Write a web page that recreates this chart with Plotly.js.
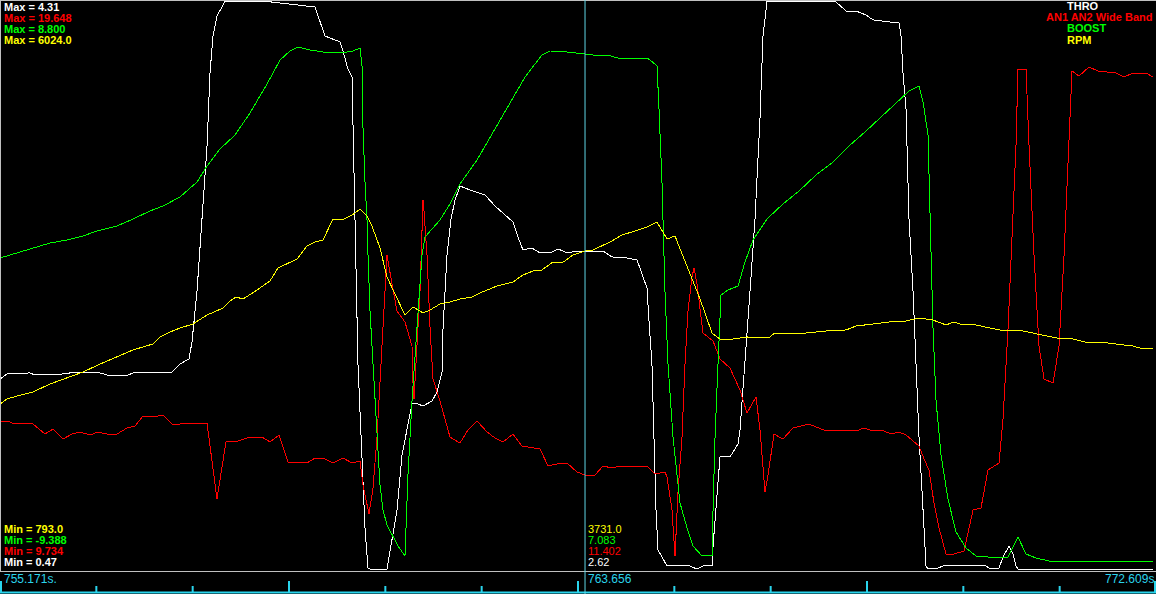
<!DOCTYPE html>
<html>
<head>
<meta charset="utf-8">
<script src="https://cdn.plot.ly/plotly-3.0.1.min.js"></script>
<style>
  html, body { margin: 0; padding: 0; background: #000; }
  #chart { width: 1156px; height: 594px; }
  #chart path.js-line { shape-rendering: crispEdges; }
</style>
</head>
<body>
<div id="chart"></div>
<script>
// ---- channel meta ----
const channelNames = ['THRO', 'AN1 AN2 Wide Band', 'BOOST', 'RPM'];
const channelMax = [4.31, 19.648, 8.800, 6024.0];
const channelMin = [0.47, 9.734, -9.388, 793.0];
const channelDecimals = [2, 3, 3, 1];
const cursorValues = [2.62, 11.402, 7.083, 3731.0];
const timeStart = 755.171;
const timeEnd = 772.609;
const cursorTime = 763.996;
const cursorLabel = '763.656';
const startLabel = '755.171s.';
const endLabel = '772.609s';

// ---- THRO (white) ----
const throTime = [755.171,755.277,755.624,755.699,756.121,756.227,756.680,756.785,757.102,757.177,
757.766,757.886,758.022,758.067,758.143,758.218,758.294,758.339,758.384,758.444,
758.565,759.199,759.923,760.073,760.300,760.345,760.420,760.481,760.496,760.526,
760.571,760.632,760.677,760.722,760.752,761.009,761.160,761.235,761.311,761.386,
761.431,761.552,761.688,761.763,761.839,761.854,761.914,761.974,762.035,762.110,
762.261,762.487,762.638,762.910,762.985,763.060,763.196,763.317,763.468,763.588,
763.724,763.875,763.996,764.267,764.403,764.629,764.780,764.825,764.931,764.961,
765.006,765.036,765.067,765.097,765.233,765.580,765.685,765.776,765.912,765.927,
765.987,766.032,766.183,766.304,766.334,766.409,766.485,766.560,766.636,766.681,
766.741,767.782,767.933,768.084,768.235,768.340,768.582,768.733,768.763,768.793,
768.838,768.883,768.944,768.989,769.034,769.095,769.140,769.170,769.245,769.321,
769.396,770.045,770.090,770.241,770.301,770.392,770.452,770.497,770.527,772.565];
const throVals = [1.761,1.795,1.802,1.788,1.795,1.802,1.802,1.788,1.788,1.802,
1.808,1.862,1.896,2.010,2.353,2.837,3.328,3.819,4.068,4.202,
4.30,4.30,4.263,4.068,4.028,3.967,3.846,3.792,3.382,2.837,
1.862,1.250,0.759,0.490,0.483,0.483,0.880,1.250,1.418,1.593,
1.600,1.580,1.613,1.674,1.808,2.104,2.595,2.837,2.965,3.059,
3.032,2.999,2.925,2.817,2.716,2.629,2.642,2.609,2.609,2.636,
2.609,2.622,2.622,2.622,2.582,2.575,2.562,2.508,2.373,2.151,
1.862,1.371,0.880,0.611,0.504,0.504,0.483,0.504,0.504,0.638,
1.001,1.237,1.237,1.324,1.418,1.862,2.353,2.837,3.523,4.068,
4.30,4.297,4.236,4.236,4.209,4.176,4.162,4.155,4.068,3.819,
3.577,2.837,2.353,1.862,1.371,0.880,0.504,0.483,0.490,0.490,
0.504,0.504,0.490,0.490,0.564,0.638,0.584,0.504,0.483,0.483];

// ---- AN1 AN2 Wide Band (red) ----
const afrTime = [755.171,755.277,755.397,755.548,755.669,755.850,755.971,756.121,756.257,756.378,
756.529,756.649,756.785,756.936,757.087,757.207,757.328,757.479,757.630,757.766,
757.886,758.037,758.158,758.294,758.444,758.580,758.716,758.942,759.123,759.244,
759.380,759.515,759.697,759.802,759.923,760.073,760.194,760.345,760.481,760.602,
760.647,760.707,760.737,760.798,760.858,760.933,760.979,761.009,761.084,761.160,
761.280,761.386,761.401,761.416,761.461,761.507,761.552,761.567,761.612,761.658,
761.703,761.808,761.959,762.110,762.231,762.367,762.518,762.638,762.759,762.910,
763.045,763.196,763.317,763.438,763.573,763.724,763.875,763.996,764.146,764.267,
764.403,764.524,764.644,764.780,764.931,765.052,765.202,765.233,765.308,765.353,
765.399,765.459,765.504,765.550,765.610,765.640,765.685,765.776,765.927,766.032,
766.183,766.334,766.439,766.575,766.636,766.711,766.756,766.847,766.982,767.133,
767.375,767.480,767.601,768.084,768.205,768.340,768.506,768.612,768.733,768.838,
768.944,769.034,769.110,769.185,769.260,769.336,769.441,769.562,769.713,769.849,
769.969,770.075,770.241,770.301,770.377,770.452,770.497,770.527,770.648,770.694,
770.769,770.844,770.920,771.056,771.146,771.222,771.297,771.342,771.448,771.599,
771.735,772.006,772.127,772.263,772.459,772.565];
const afrVals = [12.338,12.338,12.286,12.304,12.286,12.112,12.199,12.026,12.112,12.147,
12.095,12.147,12.112,12.112,12.217,12.251,12.425,12.408,12.442,12.286,
12.286,12.304,12.286,12.304,10.984,11.974,11.974,12.060,12.060,11.974,
12.095,11.626,11.626,11.609,11.696,11.678,11.609,11.696,11.609,11.644,
11.227,10.915,10.723,11.175,12.060,13.640,14.595,15.220,14.717,14.248,
14.057,13.640,12.998,12.720,13.640,14.595,16.175,15.984,15.220,13.953,
13.067,12.685,12.060,11.956,12.182,12.338,12.147,12.043,11.974,12.112,
11.904,11.869,11.852,11.557,11.592,11.609,11.453,11.400,11.400,11.557,
11.522,11.557,11.557,11.540,11.557,11.418,11.453,11.366,10.793,9.994,
11.105,12.060,13.328,14.265,14.839,14.995,14.717,13.866,13.727,13.415,
13.258,12.876,12.477,12.755,12.182,11.105,11.400,12.112,12.026,12.217,
12.286,12.234,12.182,12.165,12.217,12.165,12.165,12.112,12.147,12.095,
11.991,11.904,11.678,11.487,10.915,10.480,10.029,10.029,10.081,10.793,
10.828,11.487,11.609,12.373,13.953,15.845,17.113,18.450,18.450,17.113,
15.220,13.640,13.067,12.998,13.640,15.220,17.113,18.415,18.328,18.485,
18.415,18.380,18.311,18.380,18.380,18.311];

// ---- BOOST (green) ----
const boostTime = [755.171,755.427,755.669,755.925,756.182,756.423,756.634,756.936,757.177,757.434,
757.630,757.886,758.143,758.294,758.490,758.716,758.942,759.199,759.395,759.546,
759.666,759.847,760.149,760.330,760.496,760.602,760.632,760.647,760.677,760.707,
760.722,760.752,760.798,760.858,760.903,760.949,761.009,761.175,761.280,761.326,
761.386,761.461,761.537,761.582,761.808,761.959,762.110,762.367,762.668,762.910,
763.091,763.241,763.347,763.468,763.724,763.996,764.116,764.327,764.494,764.750,
764.931,764.976,765.082,765.112,765.157,765.202,765.248,765.323,765.429,765.535,
765.625,765.761,765.912,765.927,765.957,766.002,766.047,766.153,766.304,766.409,
766.530,766.741,766.982,767.224,767.480,767.737,767.978,768.235,768.491,768.733,
768.883,769.034,769.095,769.170,769.200,769.245,769.291,769.366,769.471,769.592,
769.743,769.894,770.241,770.377,770.527,770.648,770.799,770.995,771.659,771.705,
771.961,772.006,772.565];
const boostVals = [0.582,0.741,0.900,1.060,1.155,1.283,1.442,1.601,1.824,2.079,
2.238,2.525,3.003,3.512,4.054,4.500,5.201,6.124,6.889,7.176,
7.303,7.207,7.112,7.112,7.176,7.271,6.698,4.723,3.003,1.824,
0.677,-1.074,-2.794,-5.120,-6.649,-7.445,-7.923,-8.592,-8.910,-6.298,
-3.973,-1.648,0.677,1.251,1.792,2.302,2.939,3.704,4.787,5.678,
6.347,6.761,7.048,7.176,7.144,7.080,7.048,7.048,6.953,6.921,
6.953,6.889,6.698,5.328,3.003,-0.469,-2.794,-5.120,-7.222,-8.018,
-8.592,-8.910,-8.910,-7.445,-5.120,-2.794,-0.597,-0.437,-0.310,0.455,
1.155,1.824,2.302,2.716,3.226,3.640,4.150,4.627,5.137,5.615,
5.901,6.061,5.551,4.500,1.824,-1.648,-3.973,-5.693,-7.095,-8.146,
-8.655,-8.910,-8.974,-8.942,-8.305,-8.847,-8.974,-9.070,-9.070,-9.101,
-9.101,-9.070,-9.070];

// ---- RPM (yellow) ----
const rpmTime = [755.171,755.277,755.427,755.669,755.925,756.182,756.423,756.680,756.936,757.177,
757.479,757.585,757.735,757.886,758.082,758.294,758.535,758.641,758.731,758.837,
759.048,759.244,759.365,759.651,759.802,759.923,760.043,760.119,760.194,760.330,
760.481,760.602,760.707,760.782,760.903,761.009,761.160,761.280,761.401,761.552,
761.658,761.808,761.959,762.110,762.291,762.412,762.668,762.910,763.060,763.211,
763.347,763.513,763.649,763.815,763.996,764.116,764.373,764.554,764.750,764.931,
765.082,765.233,765.353,765.535,765.731,765.912,766.032,766.228,766.439,766.681,
766.786,766.832,767.330,767.631,767.933,768.084,768.340,768.582,768.838,768.959,
769.034,769.245,769.441,769.562,769.698,769.894,770.241,770.603,770.905,771.101,
771.358,771.599,771.750,771.961,772.263,772.414,772.565];
const rpmVals = [2323,2369,2396,2433,2506,2561,2616,2689,2754,2818,
2873,2937,2982,3019,3056,3138,3202,3267,3303,3285,
3367,3450,3569,3651,3770,3807,3825,3917,4018,4009,
4054,4109,4045,3954,3752,3486,3285,3138,3212,3157,
3184,3239,3257,3285,3303,3340,3404,3441,3505,3541,
3551,3624,3615,3688,3725,3734,3807,3871,3908,3944,
3990,3834,3862,3587,3285,2973,2918,2918,2937,2928,
2937,2964,2973,2992,3001,3037,3056,3074,3083,3102,
3111,3092,3047,3074,3047,3047,3001,2992,2955,2928,
2918,2882,2891,2873,2854,2827,2827];

// ---- styling ----
const W = 1156, H = 594, PLOT_H = 571;
const colors = ['#ffffff', '#ff0000', '#00ff00', '#ffff00'];
const cyan = '#2ad4ec';
const FONT = 'Liberation Sans, Arial, sans-serif';

const series = [
  {x: throTime, y: throVals, axis: 'y'},
  {x: afrTime, y: afrVals, axis: 'y2'},
  {x: boostTime, y: boostVals, axis: 'y3'},
  {x: rpmTime, y: rpmVals, axis: 'y4'}
];
const traces = series.map((s, i) => ({
  type: 'scatter', mode: 'lines', x: s.x, y: s.y, yaxis: s.axis,
  line: {color: colors[i], width: 1, shape: 'linear'},
  hoverinfo: 'skip', name: channelNames[i]
}));

function py(p) { return (PLOT_H - p) / PLOT_H; }
function px(p) { return p / W; }

function ann(text, x, y, color, opts) {
  opts = opts || {};
  return {
    text: opts.bold ? '<b>' + text + '</b>' : text,
    xref: 'paper', yref: 'paper', x: px(x), y: py(y),
    xanchor: opts.anchor || 'left', yanchor: 'middle',
    showarrow: false, borderpad: 0,
    font: {family: FONT, size: opts.size || 11, color: color}
  };
}

const annotations = [];
// Max labels (top left)
[0, 1, 2, 3].forEach(i => {
  annotations.push(ann('Max = ' + channelMax[i].toFixed(channelDecimals[i]), 3, 7 + 11 * i, colors[i], {bold: true}));
});
// Min labels (bottom left) and cursor readouts - RPM, BOOST, AFR, THRO
[3, 2, 1, 0].forEach((ch, k) => {
  annotations.push(ann('Min = ' + channelMin[ch].toFixed(channelDecimals[ch]), 3, 529 + 11 * k, colors[ch], {bold: true}));
  annotations.push(ann(cursorValues[ch].toFixed(channelDecimals[ch]), 587, 529 + 11 * k, colors[ch], {}));
});
// Legend top right
annotations.push(ann(channelNames[0], 1066, 6, colors[0], {bold: true}));
annotations.push(ann(channelNames[1], 1153, 17, colors[1], {bold: true, anchor: 'right'}));
annotations.push(ann(channelNames[2], 1066, 28, colors[2], {bold: true}));
annotations.push(ann(channelNames[3], 1066, 40, colors[3], {bold: true}));
// Time labels bottom strip
annotations.push(ann(startLabel, 3, 579, cyan, {size: 12}));
annotations.push(ann(cursorLabel, 587, 579, cyan, {size: 12}));
annotations.push(ann(endLabel, 1155, 579, cyan, {size: 12, anchor: 'right'}));

const shapes = [];
const gray = '#c0c0c0';
shapes.push({type: 'line', xref: 'paper', yref: 'paper', x0: 0, x1: 1, y0: py(0.5), y1: py(0.5), line: {color: gray, width: 1}});
shapes.push({type: 'line', xref: 'paper', yref: 'paper', x0: 0, x1: 1, y0: py(571.5), y1: py(571.5), line: {color: gray, width: 1}});
shapes.push({type: 'line', xref: 'paper', yref: 'paper', x0: px(0.5), x1: px(0.5), y0: py(0), y1: py(571.5), line: {color: gray, width: 1}});
// cyan baseline
shapes.push({type: 'line', xref: 'paper', yref: 'paper', x0: 0, x1: 1, y0: py(592.5), y1: py(592.5), line: {color: cyan, width: 2}});
// ticks
for (let i = 0; i <= 12; i++) {
  let xp = i * W / 12;
  if (i === 0) xp = 1;
  if (i === 12) xp = W - 1;
  const major = i % 3 === 0;
  shapes.push({type: 'line', xref: 'paper', yref: 'paper', x0: px(xp), x1: px(xp),
    y0: py(593), y1: py(major ? 581 : 586), line: {color: cyan, width: 2}});
}
// cursor
shapes.push({type: 'line', xref: 'x', yref: 'paper', x0: cursorTime, x1: cursorTime,
  y0: py(594), y1: py(0), line: {color: '#5fd6e6', width: 1}});

const axisBase = {visible: false, showgrid: false, zeroline: false, fixedrange: true};
const layout = {
  width: W, height: H,
  margin: {l: 0, r: 0, t: 0, b: H - PLOT_H, pad: 0},
  paper_bgcolor: '#000000', plot_bgcolor: '#000000',
  showlegend: false, hovermode: false,
  xaxis: Object.assign({}, axisBase, {range: [timeStart, timeEnd]}),
  yaxis: Object.assign({}, axisBase, {range: [channelMin[0], channelMax[0]]}),
  yaxis2: Object.assign({}, axisBase, {range: [channelMin[1], channelMax[1]], overlaying: 'y'}),
  yaxis3: Object.assign({}, axisBase, {range: [channelMin[2], channelMax[2]], overlaying: 'y'}),
  yaxis4: Object.assign({}, axisBase, {range: [channelMin[3], channelMax[3]], overlaying: 'y'}),
  shapes: shapes,
  annotations: annotations
};

Plotly.newPlot('chart', traces, layout, {staticPlot: true, displayModeBar: false});
</script>
</body>
</html>
